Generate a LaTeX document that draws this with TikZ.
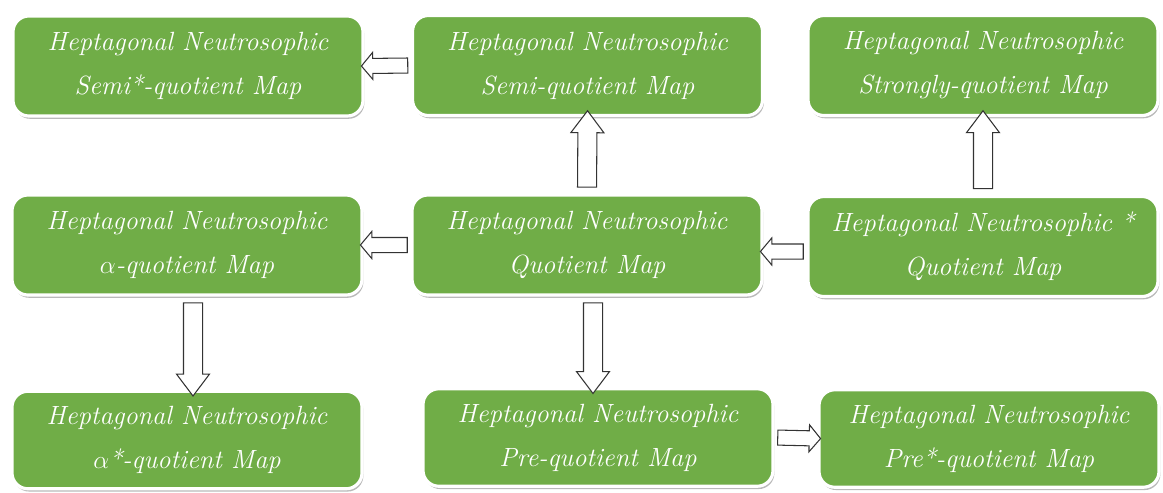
\documentclass[tikz,border=0pt]{standalone}
\usepackage{amsmath}
\usepackage{tikz}
\usetikzlibrary{shapes.arrows,shadows,calc}

\definecolor{mapgreen}{HTML}{70AD47}

\newcommand{\hollow}[3]{\path let \p1=#2, \p2=#3, \n1={veclen(\x2-\x1,\y2-\y1)} in (\p1) -- (\p2) node[#1, midway, sloped, allow upside down, minimum height=\n1] {};}

\begin{document}
\begin{tikzpicture}[
		mapbox/.style={draw=white, line width=1.8pt, fill=mapgreen, rounded corners=9pt, minimum width=7cm, minimum height=2cm, text=white, align=center, font=\fontsize{15}{25}\selectfont\itshape, drop shadow={shadow xshift=0.8pt, shadow yshift=-1.6pt, fill=black!50, opacity=0.55}},
		hollowh/.style={single arrow, draw=black!80, fill=white, line width=0.6pt, inner xsep=0pt, inner ysep=0.14cm, single arrow head extend=0.12cm, single arrow tip angle=100},
		hollowv/.style={single arrow, draw=black!80, fill=white, line width=0.6pt, inner xsep=0pt, inner ysep=0.18cm, single arrow head extend=0.14cm, single arrow tip angle=74}
	]
	\useasboundingbox (0,0) rectangle (23.26,-9.84);

	\node[mapbox] (semistar) at (3.76,-1.32) {Heptagonal Neutrosophic\\Semi*-quotient Map};
	\node[mapbox] (semi) at (11.75,-1.31) {Heptagonal Neutrosophic\\Semi-quotient Map};
	\node[mapbox] (strong) at (19.66,-1.31) {Heptagonal Neutrosophic\\Strongly-quotient Map};

	\node[mapbox] (alpha) at (3.74,-4.90) {Heptagonal Neutrosophic\\$\alpha$-quotient Map};
	\node[mapbox] (quot) at (11.74,-4.90) {Heptagonal Neutrosophic\\Quotient Map};
	\node[mapbox] (quotstar) at (19.66,-4.93) {Heptagonal Neutrosophic *\\Quotient Map};

	\node[mapbox, minimum height=1.95cm] (alphastar) at (3.74,-8.80) {Heptagonal Neutrosophic\\$\alpha$*-quotient Map};
	\node[mapbox, minimum height=1.95cm] (pre) at (11.96,-8.75) {Heptagonal Neutrosophic\\Pre-quotient Map};
	\node[mapbox, minimum height=1.95cm, minimum width=6.8cm] (prestar) at (19.78,-8.77) {Heptagonal Neutrosophic\\Pre*-quotient Map};

	% arrows between the maps
	\coordinate (qsw) at ($(quotstar.west)+(0,-0.1)$);
	\coordinate (asc) at ($(alpha.south)+(0.12,0)$);
	\coordinate (qsc) at ($(quot.south)+(0.12,0)$);

	\hollow{hollowh}{(semi.west)}{(semistar.east)}
	\hollow{hollowv}{(quot.north)}{(semi.south)}
	\hollow{hollowv}{(quotstar.north)}{(strong.south)}
	\hollow{hollowh}{(quot.west)}{(alpha.east)}
	\hollow{hollowh}{(qsw)}{(qsw -| quot.east)}
	\hollow{hollowv}{(asc)}{(asc |- alphastar.north)}
	\hollow{hollowv}{(qsc)}{(qsc |- pre.north)}
	\hollow{hollowh}{(pre.east)}{(prestar.west)}
\end{tikzpicture}
\end{document}
